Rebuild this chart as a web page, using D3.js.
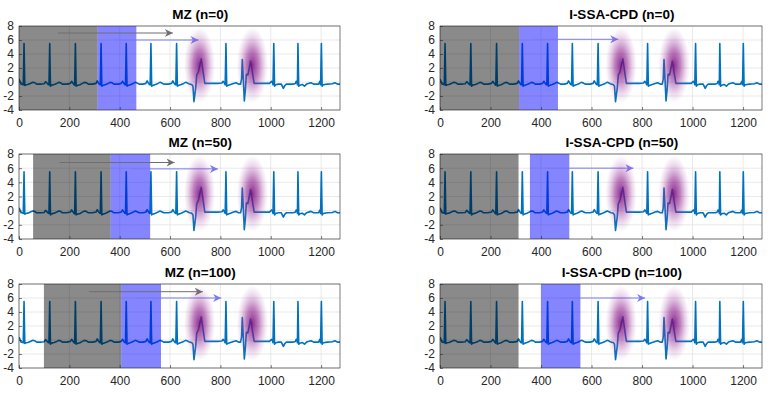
<!DOCTYPE html>
<html>
<head>
<meta charset="utf-8">
<script src="https://cdn.jsdelivr.net/npm/d3@7"></script>
<style>
  body { margin: 0; background: #fff; }
  svg { display: block; font-family: "Liberation Sans", Arial, Helvetica, sans-serif; }
</style>
</head>
<body>
<svg id="chart" width="779" height="394"></svg>
<script>
// ---------- data ----------
const xTicks = [0, 200, 400, 600, 800, 1000, 1200];
const yTicks = [-4, -2, 0, 2, 4, 6, 8];
const titles = ["MZ (n=0)", "I-SSA-CPD (n=0)", "MZ (n=50)", "I-SSA-CPD (n=50)", "MZ (n=100)", "I-SSA-CPD (n=100)"];

// shaded windows (sample index)
const grayStart = [0, 0, 56, 0, 99, 0];
const grayEnd   = [312, 313, 364, 311, 406, 311];
const blueStart = [312, 313, 364, 356, 406, 400];
const blueEnd   = [466, 467, 521, 512, 564, 556];

// arrows (null = none)
const grayArrowStart = [155, null, 161, null, 278, null];
const grayArrowEnd   = [611, null, 618, null, 730, null];
const grayArrowY     = [7.0, null, 6.8, null, 6.9, null];
const blueArrowStart = [380, 376, 452, 429, 466, 475];
const blueArrowEnd   = [713, 706, 790, 766, 803, 812];
const blueArrowY     = [6.0, 6.1, 5.9, 6.0, 6.0, 6.0];

// highlighted anomalies
const blobX = [717, 927];
const blobY = [2.4, 2.4];

// ECG trace (sample index, amplitude)
const ecgX = [0, 4, 8, 14, 17, 20, 23, 27, 35, 45, 55, 62, 70, 85, 100, 106, 110, 116, 119, 122, 125, 129, 140, 150, 158, 165, 172, 190, 204, 209, 213, 219, 221, 224, 227, 231, 242, 252, 260, 267, 275, 292, 306, 311, 315, 320, 323, 326, 329, 333, 344, 354, 362, 369, 377, 394, 406, 411, 415, 420, 423, 426, 429, 433, 444, 454, 462, 469, 477, 492, 504, 509, 513, 518, 521, 524, 527, 531, 542, 552, 560, 567, 575, 594, 606, 611, 615, 620, 623, 626, 629, 633, 644, 654, 662, 669, 677, 686, 691, 695, 702, 706, 712, 724, 738, 760, 790, 806, 811, 815, 819, 822, 825, 829, 840, 852, 862, 872, 880, 884, 887, 891, 895, 899, 903, 909, 920, 934, 965, 995, 1003, 1007, 1009, 1012, 1015, 1019, 1030, 1042, 1050, 1056, 1062, 1090, 1098, 1101, 1105, 1106, 1108, 1111, 1115, 1125, 1134, 1142, 1160, 1170, 1190, 1195, 1198, 1201, 1204, 1208, 1225, 1245, 1255, 1265, 1280];
const ecgY = [0.4, 0.1, -0.3, -0.3, -0.4, 5.5, -0.5, -0.4, -0.35, -0.2, -0.05, -0.1, -0.3, -0.3, -0.25, 0.05, -0.1, -0.35, -0.4, 5.5, -0.6, -0.45, -0.35, -0.2, -0.05, -0.1, -0.3, -0.3, -0.2, 0.1, -0.1, -0.4, -0.45, 5.5, -0.6, -0.5, -0.4, -0.2, -0.05, -0.1, -0.3, -0.3, -0.2, 0.15, -0.1, -0.35, -0.4, 5.5, -0.6, -0.5, -0.35, -0.2, -0.05, -0.1, -0.3, -0.3, -0.2, 0.1, -0.1, -0.35, -0.4, 5.5, -0.6, -0.5, -0.35, -0.2, -0.05, -0.15, -0.3, -0.3, -0.2, 0.15, -0.1, -0.35, -0.4, 5.5, -0.6, -0.5, -0.35, -0.2, -0.05, -0.15, -0.3, -0.3, -0.2, 0.15, -0.1, -0.35, -0.4, 5.5, -0.6, -0.5, -0.35, -0.2, -0.05, -0.15, -0.3, -0.35, -0.6, -2.8, -0.8, 1.0, 1.4, 3.3, -0.2, -0.2, -0.2, -0.15, 0.1, -0.1, -0.4, 5.5, -0.6, -0.5, -0.35, -0.2, -0.1, -0.3, -0.3, 0.4, 3.2, 0.4, -2.7, -1.2, 1.1, 1.0, 3.0, -0.2, -0.2, -0.2, 0.1, -0.1, -0.4, 5.5, -0.6, -0.4, -0.3, -0.3, -0.9, -0.5, -0.3, -0.3, -0.2, 0.1, -0.1, -0.4, 5.5, -0.6, -0.45, -0.35, -0.6, -0.3, -0.1, -0.3, -0.3, 0.1, -0.4, 5.5, -0.6, -0.4, -0.3, -0.25, -0.1, -0.3, -0.3];

// ---------- layout ----------
const colX = [[19, 340], [440, 762]];
const rowY = [[26, 110], [154, 239], [284, 368]];

const svg = d3.select("#chart");
const defs = svg.append("defs");

const grad = defs.append("radialGradient").attr("id", "blob");
grad.append("stop").attr("offset", "0%").attr("stop-color", "#7a0a7a").attr("stop-opacity", 0.85);
grad.append("stop").attr("offset", "40%").attr("stop-color", "#8a1a8a").attr("stop-opacity", 0.55);
grad.append("stop").attr("offset", "75%").attr("stop-color", "#a040a0").attr("stop-opacity", 0.2);
grad.append("stop").attr("offset", "100%").attr("stop-color", "#b060b0").attr("stop-opacity", 0);

function marker(id, color) {
  defs.append("marker").attr("id", id)
    .attr("viewBox", "0 0 10 10").attr("refX", 10).attr("refY", 5)
    .attr("markerUnits", "userSpaceOnUse")
    .attr("markerWidth", 11).attr("markerHeight", 8)
    .attr("orient", "auto")
    .append("path").attr("d", "M0,0 L10,5 L0,10 L3,5 Z").attr("fill", color);
}
marker("arrGray", "#6e6e6e");
marker("arrBlue", "#7a7af0");

titles.forEach((title, i) => {
  const col = i % 2, row = Math.floor(i / 2);
  const [x0, x1] = colX[col];
  const [y0, y1] = rowY[row];
  const x = d3.scaleLinear().domain([0, 1275]).range([x0, x1]);
  const y = d3.scaleLinear().domain([-4, 8]).range([y1, y0]);

  const g = svg.append("g");
  const clipId = "clip" + i;
  defs.append("clipPath").attr("id", clipId)
    .append("rect").attr("x", x0).attr("y", y0).attr("width", x1 - x0).attr("height", y1 - y0);

  g.append("rect").attr("x", x0).attr("y", y0).attr("width", x1 - x0).attr("height", y1 - y0).attr("fill", "#fff");

  // grid
  g.append("g").selectAll("line").data(xTicks).join("line")
    .attr("x1", d => x(d)).attr("x2", d => x(d)).attr("y1", y0).attr("y2", y1)
    .attr("stroke", "#e3e3e3").attr("stroke-width", 0.8);
  g.append("g").selectAll("line").data(yTicks).join("line")
    .attr("y1", d => y(d)).attr("y2", d => y(d)).attr("x1", x0).attr("x2", x1)
    .attr("stroke", "#e3e3e3").attr("stroke-width", 0.8);

  const inner = g.append("g").attr("clip-path", `url(#${clipId})`);

  // ECG line
  const line = d3.line().x(d => x(d[0])).y(d => y(d[1]));
  inner.append("path").datum(ecgX.map((v, k) => [v, ecgY[k]]))
    .attr("d", line).attr("fill", "none").attr("stroke", "#0072BD")
    .attr("stroke-width", 1.6).attr("stroke-linejoin", "round");

  // shaded windows
  inner.append("rect").attr("x", x(grayStart[i])).attr("width", x(grayEnd[i]) - x(grayStart[i]))
    .attr("y", y0).attr("height", y1 - y0).attr("fill", "#000").attr("fill-opacity", 0.46);
  inner.append("rect").attr("x", x(blueStart[i])).attr("width", x(blueEnd[i]) - x(blueStart[i]))
    .attr("y", y0).attr("height", y1 - y0).attr("fill", "#0000ff").attr("fill-opacity", 0.48);

  // arrows
  if (grayArrowStart[i] !== null) {
    inner.append("line").attr("x1", x(grayArrowStart[i])).attr("x2", x(grayArrowEnd[i]))
      .attr("y1", y(grayArrowY[i])).attr("y2", y(grayArrowY[i]))
      .attr("stroke", "#6e6e6e").attr("stroke-width", 1).attr("marker-end", "url(#arrGray)");
  }
  inner.append("line").attr("x1", x(blueArrowStart[i])).attr("x2", x(blueArrowEnd[i]))
    .attr("y1", y(blueArrowY[i])).attr("y2", y(blueArrowY[i]))
    .attr("stroke", "#7a7af0").attr("stroke-width", 1).attr("marker-end", "url(#arrBlue)");

  // anomaly blobs
  blobX.forEach((bx, k) => {
    inner.append("ellipse").attr("cx", x(bx)).attr("cy", y(blobY[k]))
      .attr("rx", x(bx + 62) - x(bx)).attr("ry", y(blobY[k]) - y(blobY[k] + 5.4))
      .attr("fill", "url(#blob)");
  });

  // axes
  const fmt = d => String(d);
  const xAxis = d3.axisBottom(x).tickValues(xTicks).tickFormat(fmt).tickSize(-3).tickPadding(8);
  const yAxis = d3.axisLeft(y).tickValues(yTicks).tickFormat(fmt).tickSize(-3).tickPadding(5);
  const xa = g.append("g").attr("transform", `translate(0,${y1})`).call(xAxis);
  const ya = g.append("g").attr("transform", `translate(${x0},0)`).call(yAxis);
  [xa, ya].forEach(a => {
    a.select(".domain").remove();
    a.selectAll("line").attr("stroke", "#262626").attr("stroke-width", 0.6);
    a.selectAll("text").attr("fill", "#262626").style("font-size", "12px")
      .style("font-family", "'Liberation Sans', Arial, sans-serif");
  });
  g.append("rect").attr("x", x0).attr("y", y0).attr("width", x1 - x0).attr("height", y1 - y0)
    .attr("fill", "none").attr("stroke", "#262626").attr("stroke-width", 0.6);

  // title
  g.append("text").attr("x", x(720)).attr("y", y0 - 7)
    .attr("text-anchor", "middle").attr("font-weight", "bold").attr("font-size", "13.5px")
    .attr("fill", "#000").text(title);
});
</script>
</body>
</html>
